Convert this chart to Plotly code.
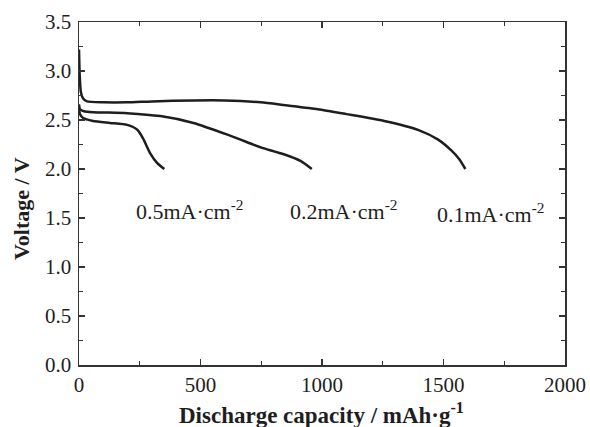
import plotly.graph_objects as go

# 0.1 mA/cm2
cap_01 = [0, 3, 8, 17, 33, 100, 198, 300, 471, 600, 748, 850, 983, 1100, 1256, 1395, 1478, 1532, 1565, 1590]
v_01 = [3.22, 2.95, 2.78, 2.72, 2.69, 2.68, 2.68, 2.69, 2.70, 2.70, 2.68, 2.65, 2.61, 2.56, 2.49, 2.40, 2.30, 2.19, 2.10, 2.00]

# 0.2 mA/cm2
cap_02 = [0, 4, 20, 58, 198, 335, 471, 611, 706, 748, 843, 913, 958]
v_02 = [2.66, 2.61, 2.59, 2.58, 2.57, 2.54, 2.47, 2.35, 2.26, 2.22, 2.15, 2.08, 2.00]

# 0.5 mA/cm2
cap_05 = [0, 4, 17, 58, 128, 198, 240, 264, 293, 322, 351]
v_05 = [2.62, 2.56, 2.52, 2.49, 2.47, 2.45, 2.40, 2.31, 2.16, 2.06, 2.00]

labels = ["0.5mA·cm<sup>-2</sup>", "0.2mA·cm<sup>-2</sup>", "0.1mA·cm<sup>-2</sup>"]
label_x = [455, 1090, 1695]
label_y = [1.58, 1.58, 1.55]

x_ticks = [0, 500, 1000, 1500, 2000]
y_ticks = [0.0, 0.5, 1.0, 1.5, 2.0, 2.5, 3.0, 3.5]

SERIF = "Liberation Serif, Times New Roman, serif"
INK = "#1e1e1e"

fig = go.Figure()
for cx, vy in [(cap_01, v_01), (cap_02, v_02), (cap_05, v_05)]:
    fig.add_trace(go.Scatter(x=cx, y=vy, mode="lines",
                             line=dict(color=INK, width=2.5, shape="spline", smoothing=0.6),
                             showlegend=False, hoverinfo="skip"))

for t, lx, ly in zip(labels, label_x, label_y):
    fig.add_annotation(x=lx, y=ly, text=t, showarrow=False,
                       font=dict(family=SERIF, size=22, color=INK))

# axis titles
fig.add_annotation(xref="paper", yref="paper", x=0.498, y=-0.14,
                   text="<b>Discharge capacity / mAh·g<sup>-1</sup></b>", showarrow=False,
                   font=dict(family=SERIF, size=23, color=INK), xanchor="center", yanchor="middle")
fig.add_annotation(xref="paper", yref="paper", x=-0.117, y=0.455,
                   text="<b>Voltage / V</b>", showarrow=False, textangle=-90,
                   font=dict(family=SERIF, size=22, color=INK), xanchor="center", yanchor="middle")

axis_common = dict(showline=True, linecolor="#333", linewidth=1.5, mirror="allticks",
                   ticks="inside", ticklen=6, tickcolor="#333", tickwidth=1.5,
                   showgrid=False, zeroline=False, automargin=False,
                   tickfont=dict(family=SERIF, size=21, color=INK))

fig.update_xaxes(range=[0, 2000], tickvals=x_ticks, ticktext=[str(v) for v in x_ticks],
                 minor=dict(ticks="inside", ticklen=4, dtick=250, tickcolor="#333", tickwidth=1.2),
                 ticklabelstandoff=0, **axis_common)
fig.update_yaxes(range=[0, 3.5], tickvals=y_ticks, ticktext=[f"{v:.1f}" for v in y_ticks],
                 minor=dict(ticks="inside", ticklen=4, dtick=0.25, tickcolor="#333", tickwidth=1.2),
                 ticklabelstandoff=2, **axis_common)

fig.update_layout(width=590, height=427, margin=dict(l=79, r=25, t=22, b=62),
                  plot_bgcolor="white", paper_bgcolor="white")

fig.write_html("out.html", config={"displayModeBar": False, "staticPlot": True},
               post_script="document.body.style.margin='0';document.body.style.overflow='hidden';")
